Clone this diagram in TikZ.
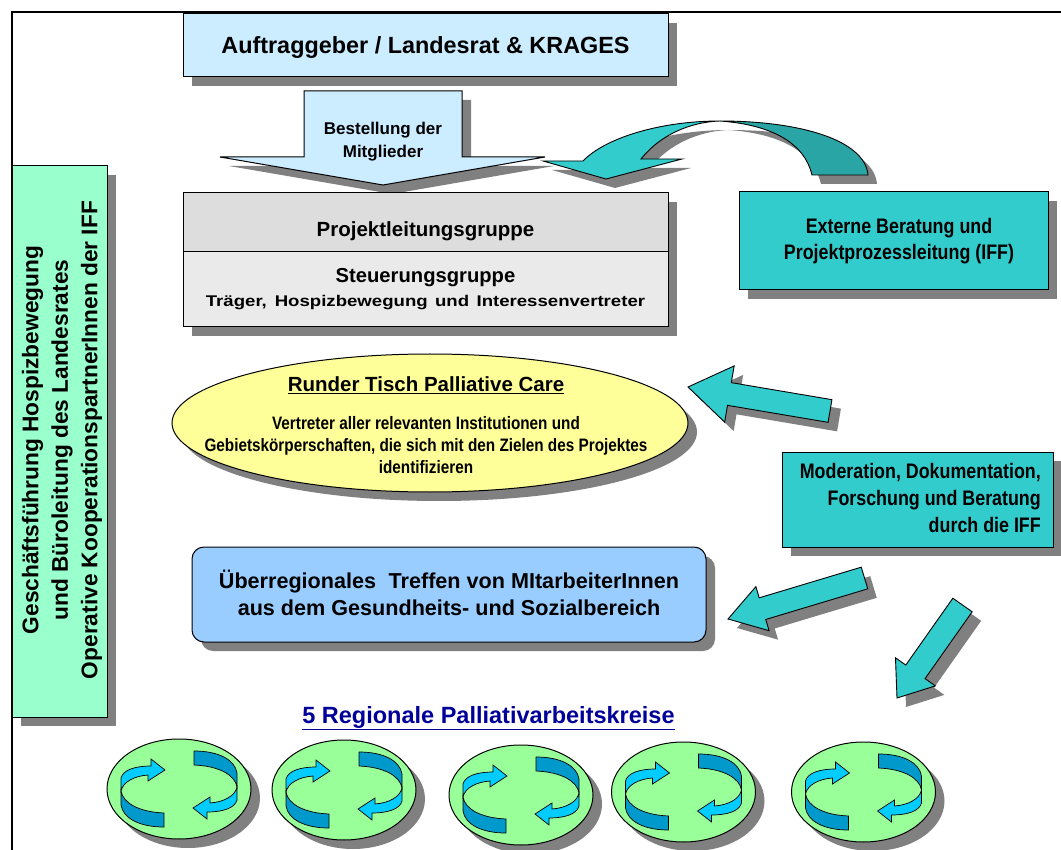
\documentclass[tikz,border=0pt]{standalone}
\usepackage{fontspec}
\setmainfont{Liberation Sans}
\newfontfamily\narrowsans{Liberation Sans}[FakeStretch=0.85]
\usetikzlibrary{shapes.geometric,shadows,calc}

\definecolor{skyfill}{HTML}{CCECFF}
\definecolor{plgray}{HTML}{DDDDDD}
\definecolor{stgray}{HTML}{EAEAEA}
\definecolor{iffteal}{HTML}{33CCCC}
\definecolor{iffdark}{HTML}{2AA5A5}
\definecolor{mint}{HTML}{99FFCC}
\definecolor{tischyellow}{HTML}{FFFF99}
\definecolor{treffblue}{HTML}{99CCFF}
\definecolor{kreisgreen}{HTML}{99FF99}
\definecolor{loopcyan}{HTML}{00CCFF}
\definecolor{loopdark}{HTML}{0099CC}
\definecolor{shadowgray}{HTML}{808080}
\definecolor{navy}{HTML}{000099}

% bold text at a given size and line distance
\newcommand{\fsz}[2]{\fontsize{#1}{#2}\selectfont\bfseries}

% straight block arrow: name, tail, tip, shaft half width, head half width, head length
\newcommand{\blockarrow}[6]{%
  \coordinate (#1-base) at ($(#3)!#6!(#2)$);
  \filldraw[flowarrow]
    ($(#2)!#4!90:(#3)$) -- ($(#1-base)!#4!90:(#3)$) -- ($(#1-base)!#5!90:(#3)$) -- (#3)
    -- ($(#1-base)!#5!-90:(#3)$) -- ($(#1-base)!#4!-90:(#3)$) -- ($(#2)!#4!-90:(#3)$) -- cycle;}

\tikzset{
  loopicon/.pic={
    \foreach \r in {0,180}{
      \begin{scope}[rotate=\r]
        \filldraw[fill=loopcyan, line width=0.7pt]
          (-58,2) -- (-58,-11) .. controls (-56,-19) and (-44,-23) .. (-28,-23)
          -- (-28,-30) -- (-14,-19) -- (-31,-8) -- (-31,-14)
          .. controls (-45,-13) and (-56,-7) .. (-58,2) -- cycle;
        \filldraw[fill=loopdark, line width=0.7pt]
          (-15,24) .. controls (-40,23) and (-56,14) .. (-58,2) -- (-58,16)
          .. controls (-56,29) and (-40,38) .. (-15,38) -- cycle;
      \end{scope}}
  }
}

\begin{document}
\begin{tikzpicture}[x=1pt, y=-1pt,
  shd/.style={drop shadow={shadow xshift=9pt, shadow yshift=-9pt, fill=shadowgray, opacity=1}},
  panel/.style={draw=black, line width=1pt, shd, inner sep=0pt},
  flowarrow/.style={draw=black, line width=0.9pt, fill=iffteal, shd},
  txt/.style={inner sep=0pt, align=center, text=black},
  kreis/.style={ellipse, draw=black, line width=1pt, fill=kreisgreen, shd,
    minimum width=144pt, minimum height=100pt, inner sep=0pt}
]
\useasboundingbox (0,0) rectangle (1061,850);

% outer frame
\draw[line width=1.3pt] (12,850) -- (12,12) -- (1061,12);

% side panel
\node[panel, fill=mint, minimum width=95pt, minimum height=551pt] (gf) at (59.5,441.5) {};
\node[txt, rotate=90, font=\fsz{22.7}{29.5}] (gftext) at (62,440)
  {Geschäftsführung Hospizbewegung\\und Büroleitung des Landesrates\\Operative KooperationspartnerInnen der IFF};

% client
\node[panel, fill=skyfill, minimum width=485pt, minimum height=63pt] (auftrag) at (425.5,45.5) {};
\node[txt, anchor=base, font=\fsz{23.4}{28}] (auftragtext) at (425.5,53.5)
  {Auftraggeber / Landesrat \& KRAGES};

% appointment arrow
\filldraw[draw=black, line width=1pt, fill=skyfill, shd]
  (304,91) -- (462,91) -- (462,157) -- (545,157) -- (383,185) -- (220,157) -- (304,157) -- cycle;
\node[txt, font=\fsz{17}{23}] (bestellung) at (383,141.5) {Bestellung der\\Mitglieder};

% project management / steering group
\node[panel, fill=plgray, minimum width=485pt, minimum height=59pt] (plg) at (425.5,222.5) {};
\node[panel, fill=stgray, minimum width=485pt, minimum height=75pt] (stg) at (425.5,289.5) {};
\node[txt, anchor=base, font=\fsz{20.5}{24}] (plgtext) at (425.5,236.7) {Projektleitungsgruppe};
\node[txt, anchor=base, font=\fsz{20.2}{24}] (stgtext) at (425.5,282.7) {Steuerungsgruppe};
\node[txt, anchor=base, font=\fsz{15.5}{19}] (stgsub) at (425.5,306.7)
  {\scalebox{1.2}[1]{\makebox[366pt][s]{Träger, Hospizbewegung und Interessenvertreter}}};

% curved arrow from the external consulting
\filldraw[draw=black, line width=0.9pt, fill=iffteal, shd]
  (720,121) .. controls (660,121) and (605,138) .. (583,161) -- (543,161) -- (606,179)
  -- (682,159) -- (641,159) .. controls (660,135) and (690,122) .. (720,121) -- cycle;
\filldraw[draw=black, line width=0.9pt, fill=iffdark, shd]
  (720,121) .. controls (800,121) and (865,140) .. (868,175) -- (812,175)
  .. controls (805,145) and (775,125) .. (720,121) -- cycle;

% external consulting
\node[panel, fill=iffteal, minimum width=309pt, minimum height=98pt] (extern) at (893.5,241) {};
\node[txt, font=\narrowsans\fsz{21}{26.7}] (externtext) at (899,241)
  {Externe Beratung und\\Projektprozessleitung (IFF)};

% round table
\node[ellipse, draw=black, line width=1pt, fill=tischyellow, shd,
  minimum width=516pt, minimum height=138pt, inner sep=0pt] (tisch) at (430,423) {};
\node[txt, anchor=base, font=\fsz{20.5}{24}] (tischtitel) at (426,391.7)
  {\underline{Runder Tisch Palliative Care}};
\node[txt, font=\narrowsans\fsz{18}{22}] (tischtext) at (426,444.8)
  {Vertreter aller relevanten Institutionen und\\Gebietskörperschaften, die sich mit den Zielen des Projektes\\identifizieren};

% moderation
\node[panel, fill=iffteal, minimum width=271pt, minimum height=95pt] (moder) at (917.5,499.5) {};
\node[txt, align=right, anchor=north east, font=\narrowsans\fsz{21}{26.7}] (modertext) at (1041,463.5)
  {Moderation, Dokumentation,\\Forschung und Beratung\\durch die IFF};

% supra-regional meeting
\node[panel, rounded corners=12pt, fill=treffblue, minimum width=514pt, minimum height=95pt] (treffen) at (449,594.5) {};
\node[txt, font=\fsz{21.6}{27}] (treffentext) at (449,593)
  {Überregionales\hspace{0.3em} Treffen von MItarbeiterInnen\\aus dem Gesundheits- und Sozialbereich};

% block arrows from the moderation
\coordinate (pt1) at (830,411);   \coordinate (ph1) at (688,387);
\blockarrow{pf1}{pt1}{ph1}{11.5pt}{28.5pt}{42pt}
\coordinate (pt2) at (864.5,578); \coordinate (ph2) at (728,619);
\blockarrow{pf2}{pt2}{ph2}{11.3pt}{23pt}{36pt}
\coordinate (pt3) at (962.5,605); \coordinate (ph3) at (897,698);
\blockarrow{pf3}{pt3}{ph3}{11.8pt}{24.4pt}{32pt}

% regional working groups
\node[txt, anchor=base, text=navy, font=\fsz{23.5}{28}] (kreistitel) at (488.5,723)
  {\underline{5 Regionale Palliativarbeitskreise}};
\foreach \i/\cx/\cy in {1/179/789, 2/344/790, 3/521/795, 4/683.5/792, 5/863.5/792}{
  \node[kreis] (kreis\i) at (\cx,\cy) {};
  \pic at (kreis\i.center) {loopicon};
}
\end{tikzpicture}
\end{document}
